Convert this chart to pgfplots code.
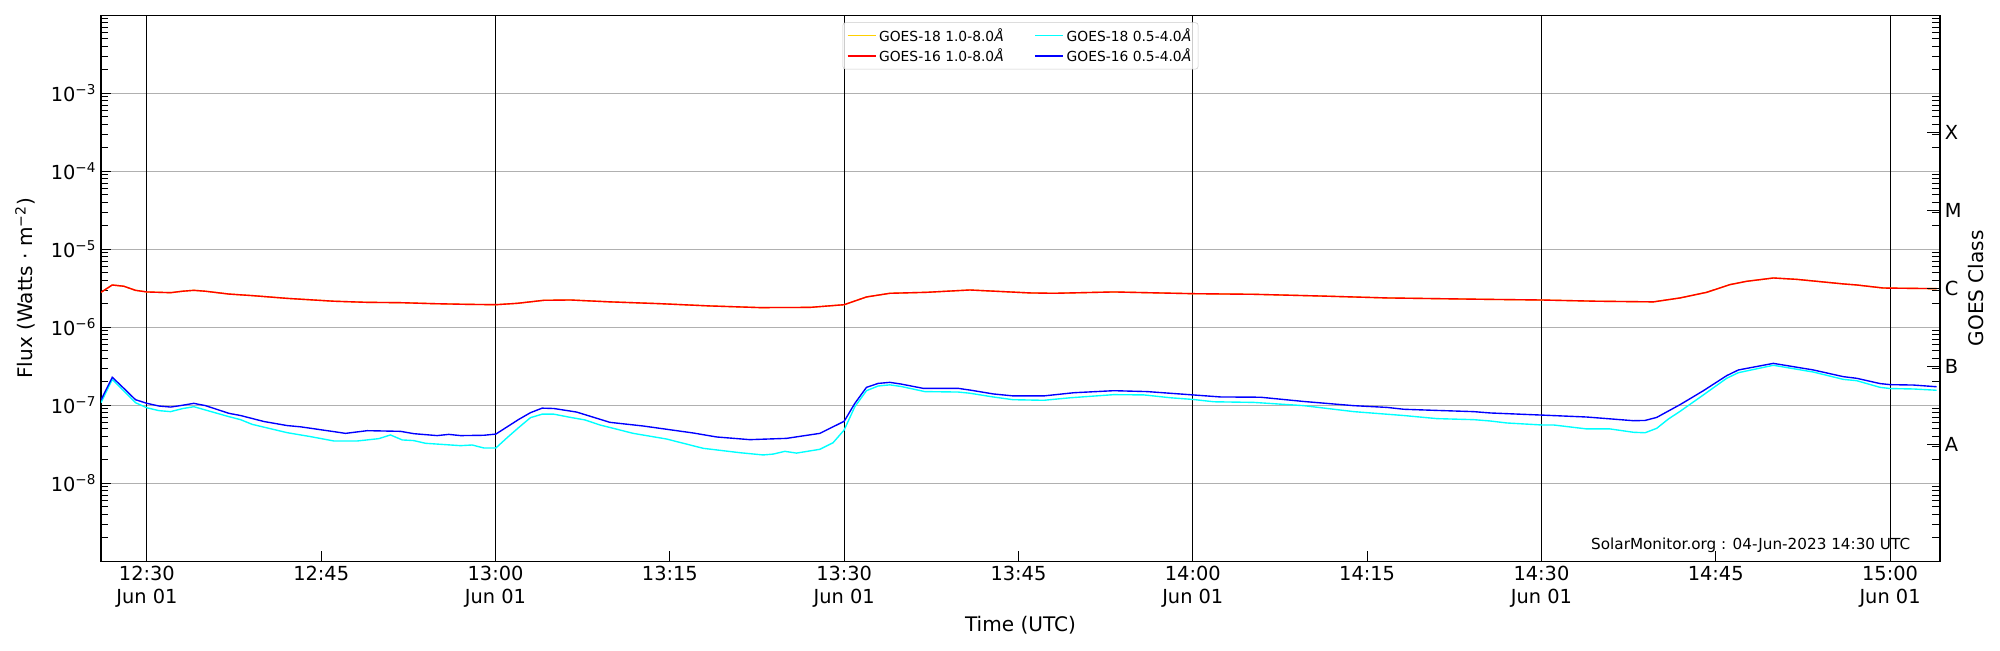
\documentclass[border=0pt]{standalone}
\usepackage{fontspec}
\setmainfont{DejaVu Sans}
\usepackage{pgfplots}
\pgfplotsset{compat=1.18}
\definecolor{gridgray}{HTML}{B0B0B0}
\definecolor{goldl}{HTML}{FFD000}
\definecolor{legframe}{HTML}{CCCCCC}
\definecolor{cyanl}{HTML}{00FFFF}
\definecolor{bluel}{HTML}{0000FF}
\definecolor{redl}{HTML}{FF0000}
\def\minorlist{2e-9,3e-9,4e-9,5e-9,6e-9,7e-9,8e-9,9e-9,
2e-8,3e-8,4e-8,5e-8,6e-8,7e-8,8e-8,9e-8,
2e-7,3e-7,4e-7,5e-7,6e-7,7e-7,8e-7,9e-7,
2e-6,3e-6,4e-6,5e-6,6e-6,7e-6,8e-6,9e-6,
2e-5,3e-5,4e-5,5e-5,6e-5,7e-5,8e-5,9e-5,
2e-4,3e-4,4e-4,5e-4,6e-4,7e-4,8e-4,9e-4,
2e-3,3e-3,4e-3,5e-3,6e-3,7e-3,8e-3,9e-3}
\begin{document}
\begin{tikzpicture}
\begin{axis}[name=main, scale only axis, width=18.39in, height=5.46in,
  xmin=26.05, xmax=184.3, ymode=log, ymin=1e-9, ymax=1e-2,
  ytick={1e-8,1e-7,1e-6,1e-5,1e-4,1e-3},
  yticklabels={10\textsuperscript{−8},10\textsuperscript{−7},10\textsuperscript{−6},10\textsuperscript{−5},10\textsuperscript{−4},10\textsuperscript{−3}},
  minor ytick/.expanded={\minorlist},
  ytick pos=left, xtick pos=bottom,
  xtick={45,75,105,135,165},
  xticklabels={12:45,13:15,13:45,14:15,14:45},
  extra x ticks={30,60,90,120,150,180},
  extra x tick labels={{12:30\\Jun 01},{13:00\\Jun 01},{13:30\\Jun 01},{14:00\\Jun 01},{14:30\\Jun 01},{15:00\\Jun 01}},
  extra x tick style={grid=major, major grid style={black, line width=0.7pt}},
  ymajorgrids, major grid style={gridgray, line width=0.9pt},
  tick align=inside, major tick length=0.1in, minor tick length=0.065in,
  tick style={black, line width=0.8pt},
  axis line style={line width=1.1pt},
  ticklabel style={font=\fontsize{14}{16.8}\selectfont},
  xticklabel style={align=center},
  xlabel={Time (UTC)},
  ylabel={Flux (Watts · m\textsuperscript{−2})},
  label style={font=\fontsize{14.5}{17}\selectfont},
  xlabel style={at={(axis description cs:0.5,0)}, anchor=base, yshift=-0.697in},
  ylabel style={at={(axis description cs:-0.0371,0.5)}, anchor=base},
  legend columns=2, legend cell align=left,
  legend style={at={(axis description cs:0.5,0.987)}, anchor=north,
    font=\fontsize{10}{12}\selectfont, draw=legframe, rounded corners=2pt,
    fill=white, fill opacity=0.8, text opacity=1,
    /tikz/every even column/.append style={column sep=0.28in}},
  legend image code/.code={\draw[#1] (0in,0in) -- (0.28in,0in);},
  every axis plot/.append style={line width=1.0pt},
]
% GOES-18 1-8 A (under the red one)
\addplot[goldl] coordinates {
(26.05,2.81e-6)(27.02,3.49e-6)(28.02,3.36e-6)(29.02,2.98e-6)(30.0,2.84e-6)(32.04,2.78e-6)
(33.04,2.9e-6)(34.04,2.98e-6)(35.05,2.9e-6)(37.05,2.67e-6)(39.06,2.55e-6)(42.07,2.35e-6)
(46.09,2.16e-6)(48.96,2.09e-6)(51.82,2.07e-6)(54.69,2.01e-6)(57.56,1.97e-6)(60.03,1.95e-6)
(61.86,2.03e-6)(64.16,2.22e-6)(66.45,2.24e-6)(69.84,2.12e-6)(74.14,2.01e-6)(78.44,1.88e-6)
(82.74,1.79e-6)(87.05,1.80e-6)(90.0,1.95e-6)(91.92,2.45e-6)(93.93,2.73e-6)(97.08,2.81e-6)
(100.81,3.01e-6)(105.97,2.76e-6)(108.04,2.73e-6)(113.2,2.84e-6)(120.0,2.70e-6)(125.25,2.65e-6)
(130.98,2.52e-6)(136.72,2.38e-6)(145.61,2.28e-6)(150.0,2.24e-6)(154.76,2.16e-6)(159.64,2.12e-6)
(161.93,2.38e-6)(164.22,2.81e-6)(166.23,3.53e-6)(167.66,3.89e-6)(169.96,4.29e-6)(171.97,4.12e-6)
(175.98,3.60e-6)(177.13,3.49e-6)(179.42,3.19e-6)(184.01,3.13e-6)};
\addlegendentry{GOES-18 1.0-8.0\textit{Å}}
% GOES-18 0.5-4 A
\addplot[cyanl] coordinates {
(26.05,1.08e-7)(27.02,2.15e-7)(29.02,1.08e-7)(30.0,9.3e-8)(31.03,8.55e-8)(32.04,8.3e-8)
(33.04,9.06e-8)(34.04,9.6e-8)(35.05,8.7e-8)(37.05,7.16e-8)(38.06,6.55e-8)(39.06,5.7e-8)
(42.07,4.46e-8)(44.08,3.97e-8)(46.09,3.49e-8)(48.1,3.49e-8)(49.96,3.74e-8)(50.96,4.17e-8)
(51.97,3.6e-8)(52.97,3.53e-8)(53.97,3.26e-8)(56.99,3.04e-8)(57.99,3.1e-8)(58.99,2.84e-8)
(60.03,2.84e-8)(61.0,3.85e-8)(62.0,5.2e-8)(63.01,6.95e-8)(64.01,7.7e-8)(65.02,7.7e-8)
(66.45,7.0e-8)(67.69,6.5e-8)(68.98,5.6e-8)(71.85,4.37e-8)(74.71,3.7e-8)(77.87,2.81e-8)
(81.02,2.47e-8)(83.03,2.31e-8)(83.89,2.37e-8)(84.90,2.57e-8)(85.90,2.44e-8)(87.91,2.73e-8)
(89.05,3.32e-8)(90.0,4.83e-8)(90.92,9.6e-8)(91.92,1.54e-7)(92.93,1.77e-7)(93.93,1.83e-7)
(94.93,1.74e-7)(96.94,1.50e-7)(99.81,1.48e-7)(100.81,1.43e-7)(102.82,1.28e-7)(104.54,1.18e-7)
(107.18,1.16e-7)(109.47,1.25e-7)(113.2,1.37e-7)(115.78,1.36e-7)(118.08,1.25e-7)(120.0,1.19e-7)
(121.81,1.11e-7)(125.25,1.09e-7)(129.55,9.9e-8)(133.85,8.3e-8)(138.15,7.4e-8)(141.02,6.75e-8)
(144.17,6.55e-8)(145.58,6.3e-8)(147.02,5.94e-8)(150.0,5.6e-8)(151.03,5.6e-8)(153.9,4.98e-8)
(155.91,4.98e-8)(157.92,4.51e-8)(158.92,4.45e-8)(159.92,5.07e-8)(160.93,6.68e-8)(161.93,8.37e-8)
(163.94,1.36e-7)(165.94,2.22e-7)(166.95,2.62e-7)(169.96,3.26e-7)(173.4,2.67e-7)(175.98,2.15e-7)
(177.13,2.07e-7)(179.14,1.70e-7)(180.03,1.64e-7)(182.0,1.62e-7)(184.01,1.56e-7)};
\addlegendentry{GOES-18 0.5-4.0\textit{Å}}
% GOES-16 1-8 A
\addplot[redl] coordinates {
(26.05,2.81e-6)(27.02,3.49e-6)(28.02,3.36e-6)(29.02,2.98e-6)(30.0,2.84e-6)(32.04,2.78e-6)
(33.04,2.9e-6)(34.04,2.98e-6)(35.05,2.9e-6)(37.05,2.67e-6)(39.06,2.55e-6)(42.07,2.35e-6)
(46.09,2.16e-6)(48.96,2.09e-6)(51.82,2.07e-6)(54.69,2.01e-6)(57.56,1.97e-6)(60.03,1.95e-6)
(61.86,2.03e-6)(64.16,2.22e-6)(66.45,2.24e-6)(69.84,2.12e-6)(74.14,2.01e-6)(78.44,1.88e-6)
(82.74,1.79e-6)(87.05,1.80e-6)(90.0,1.95e-6)(91.92,2.45e-6)(93.93,2.73e-6)(97.08,2.81e-6)
(100.81,3.01e-6)(105.97,2.76e-6)(108.04,2.73e-6)(113.2,2.84e-6)(120.0,2.70e-6)(125.25,2.65e-6)
(130.98,2.52e-6)(136.72,2.38e-6)(145.61,2.28e-6)(150.0,2.24e-6)(154.76,2.16e-6)(159.64,2.12e-6)
(161.93,2.38e-6)(164.22,2.81e-6)(166.23,3.53e-6)(167.66,3.89e-6)(169.96,4.29e-6)(171.97,4.12e-6)
(175.98,3.60e-6)(177.13,3.49e-6)(179.42,3.19e-6)(184.01,3.13e-6)};
\addlegendentry{GOES-16 1.0-8.0\textit{Å}}
% GOES-16 0.5-4 A
\addplot[bluel] coordinates {
(26.05,1.17e-7)(27.02,2.29e-7)(28.02,1.65e-7)(29.02,1.18e-7)(30.0,1.06e-7)(31.03,9.8e-8)
(32.04,9.5e-8)(33.04,1.0e-7)(34.04,1.06e-7)(35.05,9.9e-8)(37.05,7.9e-8)(38.06,7.4e-8)
(40.07,6.2e-8)(42.07,5.5e-8)(43.22,5.3e-8)(46.09,4.6e-8)(47.09,4.37e-8)(48.96,4.73e-8)
(51.82,4.64e-8)(52.97,4.33e-8)(54.98,4.09e-8)(55.98,4.24e-8)(56.99,4.09e-8)(58.99,4.13e-8)
(60.03,4.28e-8)(62.0,6.6e-8)(63.01,8.05e-8)(64.01,9.2e-8)(65.02,9.1e-8)(66.97,8.2e-8)
(69.84,6.05e-8)(72.71,5.43e-8)(77.01,4.42e-8)(79.02,3.93e-8)(81.88,3.63e-8)(85.04,3.77e-8)
(87.91,4.37e-8)(90.0,6.24e-8)(90.92,1.06e-7)(91.92,1.70e-7)(92.93,1.91e-7)(93.93,1.97e-7)
(94.93,1.87e-7)(96.8,1.65e-7)(99.81,1.65e-7)(100.81,1.57e-7)(102.82,1.40e-7)(104.54,1.32e-7)
(107.18,1.32e-7)(109.76,1.45e-7)(113.2,1.54e-7)(116.07,1.50e-7)(120.0,1.36e-7)(122.38,1.28e-7)
(125.82,1.27e-7)(129.55,1.12e-7)(133.85,9.9e-8)(136.72,9.4e-8)(138.15,8.9e-8)(141.02,8.6e-8)
(144.17,8.3e-8)(145.61,7.98e-8)(150.0,7.5e-8)(153.9,7.08e-8)(157.92,6.35e-8)(158.92,6.4e-8)
(159.92,7.0e-8)(161.93,1.02e-7)(163.94,1.54e-7)(165.94,2.40e-7)(166.95,2.84e-7)(169.96,3.45e-7)
(173.4,2.84e-7)(175.98,2.33e-7)(177.13,2.22e-7)(179.14,1.90e-7)(180.03,1.84e-7)(182.0,1.82e-7)
(184.01,1.73e-7)};
\addlegendentry{GOES-16 0.5-4.0\textit{Å}}
\node[anchor=base east, font=\fontsize{11}{13}\selectfont, xshift=-0.25in, yshift=0.12in] at (rel axis cs:1,0) {SolarMonitor.org : 04-Jun-2023 14:30 UTC};
\end{axis}
\begin{axis}[at={(main.south west)}, anchor=south west, scale only axis,
  width=18.39in, height=5.46in,
  xmin=26.05, xmax=184.3, ymode=log, ymin=1e-9, ymax=1e-2,
  hide x axis, axis y line*=right,
  ytick={3.16228e-8,3.16228e-7,3.16228e-6,3.16228e-5,3.16228e-4},
  yticklabels={A,B,C,M,X},
  minor ytick/.expanded={\minorlist},
  tick align=inside, major tick length=0.13in, minor tick length=0.08in,
  tick style={black, line width=0.8pt},
  axis line style={line width=1.1pt},
  ticklabel style={font=\fontsize{14}{16.8}\selectfont},
  ylabel={GOES Class},
  label style={font=\fontsize{14.5}{17}\selectfont},
  ylabel style={at={(axis description cs:1.0235,0.5)}, anchor=base},
]
\end{axis}
\path (main.south west) +(-1.01in,-0.89in);
\path (main.north east) +(0.60in,0.153in);
\end{tikzpicture}
\end{document}
